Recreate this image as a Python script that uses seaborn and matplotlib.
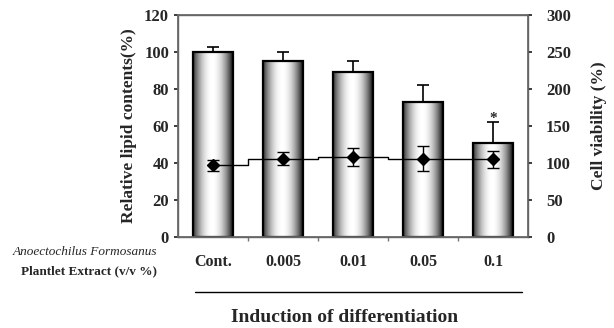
import numpy as np
import pandas as pd
import matplotlib
matplotlib.use("Agg")
import matplotlib.pyplot as plt
import seaborn as sns

# ----------------------------
# Data
# ----------------------------
doses = ["Cont.", "0.005", "0.01", "0.05", "0.1"]
lipid = [100, 95, 89, 73, 51]          # relative lipid contents (%), left axis
lipid_err = [2.5, 5, 6, 9, 11]
viability = [97, 106, 108, 106, 105]   # cell viability (%), right axis
viability_err = [7, 9, 12, 17, 11]
star_dose = "0.1"
star_level = 64

df = pd.DataFrame({"dose": doses, "lipid": lipid})

sns.set_theme(style="white")
plt.rcParams["font.family"] = ["Liberation Serif", "DejaVu Serif"]

fig = plt.figure(figsize=(6.14, 3.28), dpi=100)
ax = fig.add_axes([0.290, 0.277, 0.570, 0.677])

# ----------------------------
# Bars (left axis)
# ----------------------------
sns.barplot(data=df, x="dose", y="lipid", ax=ax, color="white",
            edgecolor="black", linewidth=1.6, width=0.58, zorder=2)

# cylinder-like shading inside each bar
u = np.linspace(0, 1, 200)
shade = 1 - np.clip(np.abs(u - 0.47) / 0.5, 0, 1) ** 2.0
grad = np.tile(0.08 + 0.92 * shade, (2, 1))
for p in ax.patches:
    x0, y0 = p.get_x(), p.get_y()
    w, h = p.get_width(), p.get_height()
    im = ax.imshow(grad, cmap="gray", vmin=0, vmax=1, aspect="auto",
                   extent=[x0, x0 + w, y0, y0 + h], zorder=2.5,
                   interpolation="bilinear")
    im.set_clip_path(p)
    p.set_zorder(3)
    p.set_facecolor("none")

xpos = np.arange(len(doses))
ax.errorbar(xpos, lipid, yerr=[np.zeros(len(lipid)), lipid_err], fmt="none",
            ecolor="black", elinewidth=1.2, capsize=4, capthick=1.2, zorder=4)
ax.text(doses.index(star_dose), star_level, "*", ha="center", va="center",
        fontsize=11, fontweight="bold")

ax.set_xlim(-0.5, len(doses) - 0.5)
ax.set_ylim(0, 120)
ax.set_yticks(range(0, 121, 20))
ax.set_ylabel("Relative lipid contents(%)", fontsize=12.5, fontweight="bold", labelpad=5)
ax.set_xlabel("")
ax.set_xticks(xpos)
ax.set_xticklabels(doses, fontsize=11.5, fontweight="bold")
ax.tick_params(axis="x", length=0, pad=12)
ax.set_xticks(xpos[:-1] + 0.5, minor=True)
ax.tick_params(axis="x", which="minor", length=3, direction="out", color="#777777", bottom=True)
ax.tick_params(axis="y", length=3, direction="out", left=True, labelsize=12)
for lab in ax.get_yticklabels():
    lab.set_fontweight("bold")

for side in ["top", "bottom", "left", "right"]:
    ax.spines[side].set_color("#666666")
    ax.spines[side].set_linewidth(1.0)

# ----------------------------
# Viability line (right axis)
# ----------------------------
ax2 = ax.twinx()
sns.lineplot(x=xpos, y=viability, ax=ax2, color="black", linewidth=1.0,
             drawstyle="steps-mid", zorder=5)
ax2.errorbar(xpos, viability, yerr=viability_err, fmt="D", color="black",
             markersize=6, ecolor="black", elinewidth=1.0, capsize=4,
             capthick=1.0, zorder=6)
ax2.set_ylim(0, 300)
ax2.set_yticks(range(0, 301, 50))
ax2.set_ylabel("Cell viability (%)", fontsize=12.5, fontweight="bold", labelpad=14)
ax2.tick_params(axis="y", length=3, direction="out", right=True, labelsize=12, pad=10)
for lab in ax2.get_yticklabels():
    lab.set_fontweight("bold")
for side in ["top", "bottom", "left", "right"]:
    ax2.spines[side].set_color("#666666")

# ----------------------------
# Annotations below the axis
# ----------------------------
fig.text(157 / 614, 1 - 252 / 328, "Anoectochilus Formosanus", ha="right",
         va="center", fontsize=9.5, fontstyle="italic")
fig.text(157 / 614, 1 - 271 / 328, "Plantlet Extract (v/v %)", ha="right",
         va="center", fontsize=9.5, fontweight="bold")
fig.add_artist(plt.Line2D([195 / 614, 522 / 614], [1 - 292 / 328, 1 - 292 / 328],
                          color="black", linewidth=1.0))
fig.text(345 / 614, 1 - 318 / 328, "Induction of differentiation", ha="center",
         va="center", fontsize=14, fontweight="bold")

fig.savefig("out.png", dpi=100)
